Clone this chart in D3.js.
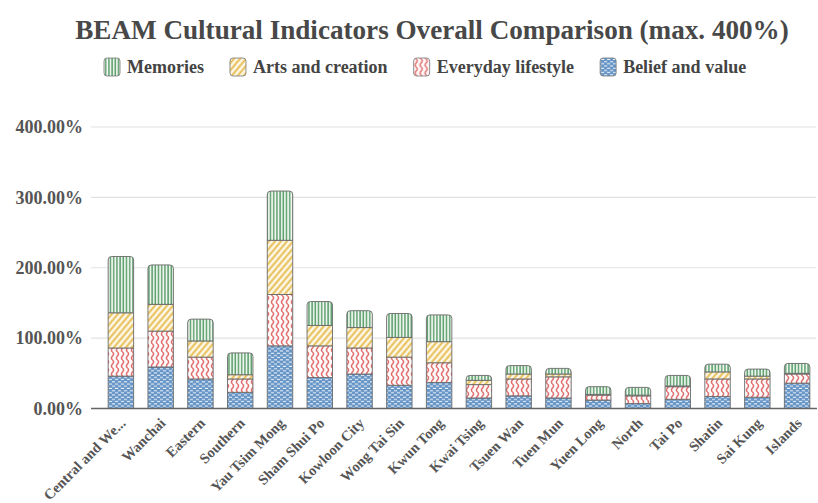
<!DOCTYPE html>
<html>
<head>
<meta charset="utf-8">
<script src="https://cdn.jsdelivr.net/npm/d3@7"></script>
<style>
  html, body { margin: 0; padding: 0; background: #fff; }
  #chart { width: 818px; height: 503px; }
</style>
</head>
<body>
<div id="chart"></div>
<script>
// districts and series values (percent)
const districts = ['Central and Western', 'Wanchai', 'Eastern', 'Southern', 'Yau Tsim Mong',
  'Sham Shui Po', 'Kowloon City', 'Wong Tai Sin', 'Kwun Tong', 'Kwai Tsing', 'Tsuen Wan',
  'Tuen Mun', 'Yuen Long', 'North', 'Tai Po', 'Shatin', 'Sai Kung', 'Islands'];
const belief   = [46, 59, 42, 23, 89, 44, 49, 33, 37, 15, 18, 15, 12, 7, 13, 17, 16, 36];
const everyday = [40, 51, 31, 19, 73, 45, 37, 40, 28, 19, 24, 30, 7, 11, 18, 25, 26, 13];
const arts     = [50, 38, 23, 6, 77, 29, 29, 28, 30, 6, 7, 4, 1, 1, 1, 10, 4, 1];
const memories = [80, 56, 31, 31, 70, 34, 24, 34, 38, 7, 12, 8, 11, 11, 15, 11, 10, 14];
const yTicks = [0, 100, 200, 300, 400];

const seriesNames = ['Belief and value', 'Everyday lifestyle', 'Arts and creation', 'Memories'];
const legendOrder = ['Memories', 'Arts and creation', 'Everyday lifestyle', 'Belief and value'];
const patternId = {
  'Belief and value': 'pat-belief',
  'Everyday lifestyle': 'pat-everyday',
  'Arts and creation': 'pat-arts',
  'Memories': 'pat-memories'
};

const width = 818, height = 503;
const font = "'Liberation Serif', 'DejaVu Serif', serif";

const svg = d3.select('#chart').append('svg')
  .attr('width', width)
  .attr('height', height);

// ---- patterns ----
const defs = svg.append('defs');

const pm = defs.append('pattern').attr('id', 'pat-memories')
  .attr('patternUnits', 'userSpaceOnUse').attr('width', 3.2).attr('height', 10);
pm.append('rect').attr('width', 3.2).attr('height', 10).attr('fill', '#f3f9f3');
pm.append('rect').attr('x', 1).attr('width', 1.5).attr('height', 10).attr('fill', '#5c9e6c');

const pa = defs.append('pattern').attr('id', 'pat-arts')
  .attr('patternUnits', 'userSpaceOnUse').attr('width', 4.6).attr('height', 10)
  .attr('patternTransform', 'rotate(40)');
pa.append('rect').attr('width', 4.6).attr('height', 10).attr('fill', '#fdf8ea');
pa.append('rect').attr('x', 1.4).attr('width', 1.9).attr('height', 10).attr('fill', '#e6bc4e');

// wavy vertical lines
const pe = defs.append('pattern').attr('id', 'pat-everyday')
  .attr('patternUnits', 'userSpaceOnUse').attr('width', 5).attr('height', 8);
pe.append('rect').attr('width', 5).attr('height', 8).attr('fill', '#fff8f8');
pe.append('path')
  .attr('d', 'M2.5,0 Q4.6,2 2.5,4 Q0.4,6 2.5,8')
  .attr('fill', 'none').attr('stroke', '#df6f6f').attr('stroke-width', 1.5);

const pb = defs.append('pattern').attr('id', 'pat-belief')
  .attr('patternUnits', 'userSpaceOnUse').attr('width', 6).attr('height', 4.4);
pb.append('rect').attr('width', 6).attr('height', 4.4).attr('fill', '#6393c5');
pb.append('rect').attr('x', 0.8).attr('y', 0.6).attr('width', 3.4).attr('height', 1.2).attr('rx', 0.5).attr('fill', '#eef4fb');
pb.append('rect').attr('x', 3.8).attr('y', 2.8).attr('width', 3.4).attr('height', 1.2).attr('rx', 0.5).attr('fill', '#eef4fb');
pb.append('rect').attr('x', -2.2).attr('y', 2.8).attr('width', 3.4).attr('height', 1.2).attr('rx', 0.5).attr('fill', '#eef4fb');

// ---- scales ----
const x = d3.scaleBand()
  .domain(districts)
  .range([101, 817])
  .paddingInner(0.36)
  .paddingOuter(0.18);

const y = d3.scaleLinear()
  .domain([0, 400])
  .range([408.5, 127]);

// ---- title ----
const title = svg.append('text')
  .attr('x', 432)
  .attr('y', 39)
  .attr('text-anchor', 'middle')
  .attr('font-family', font)
  .attr('font-weight', 'bold')
  .attr('font-size', '26px')
  .attr('fill', '#484848')
  .text('BEAM Cultural Indicators Overall Comparison (max. 400%)');
// fit title width to reference
const tw = title.node().getComputedTextLength();
title.attr('font-size', (26 * 714 / tw).toFixed(2) + 'px');

// ---- grid ----
svg.append('g')
  .selectAll('line')
  .data(yTicks.filter(d => d > 0))
  .join('line')
  .attr('x1', 91).attr('x2', 816)
  .attr('y1', d => y(d)).attr('y2', d => y(d))
  .attr('stroke', '#e2e2e2')
  .attr('stroke-width', 1.2);

// y labels
svg.append('g')
  .selectAll('text')
  .data(yTicks)
  .join('text')
  .attr('x', 83)
  .attr('y', d => y(d))
  .attr('dy', '0.35em')
  .attr('text-anchor', 'end')
  .attr('font-family', font)
  .attr('font-weight', 'bold')
  .attr('font-size', '18px')
  .attr('fill', '#555')
  .text(d => d3.format('.2f')(d) + '%');

// ---- stacked bars ----
const table = districts.map((d, i) => ({
  district: d,
  'Belief and value': belief[i],
  'Everyday lifestyle': everyday[i],
  'Arts and creation': arts[i],
  'Memories': memories[i]
}));

const series = d3.stack().keys(seriesNames)(table);

function segPath(x0, w, yTop, yBot, r) {
  if (r <= 0) return `M${x0},${yBot}V${yTop}H${x0 + w}V${yBot}Z`;
  r = Math.min(r, (yBot - yTop));
  return `M${x0},${yBot}V${yTop + r}Q${x0},${yTop} ${x0 + r},${yTop}` +
    `H${x0 + w - r}Q${x0 + w},${yTop} ${x0 + w},${yTop + r}V${yBot}Z`;
}

const bw = x.bandwidth();
series.forEach((s, si) => {
  svg.append('g')
    .selectAll('path')
    .data(s)
    .join('path')
    .attr('d', d => {
      const isTop = si === series.length - 1;
      return segPath(x(d.data.district), bw, y(d[1]), y(d[0]), isTop ? 3.5 : 0);
    })
    .attr('fill', `url(#${patternId[s.key]})`)
    .attr('stroke', '#6a6a6a')
    .attr('stroke-width', 0.9);
});

// ---- x axis ----
svg.append('line')
  .attr('x1', 91).attr('x2', 817)
  .attr('y1', y(0)).attr('y2', y(0))
  .attr('stroke', '#666')
  .attr('stroke-width', 1.5);

const shortName = d => d.length > 15 ? d.slice(0, 14) + '...' : d;

svg.append('g')
  .selectAll('text')
  .data(districts)
  .join('text')
  .attr('transform', d => `translate(${x(d) + bw / 2 + 2},${y(0) + 12}) rotate(-45)`)
  .attr('text-anchor', 'end')
  .attr('dy', '0.35em')
  .attr('font-family', font)
  .attr('font-weight', 'bold')
  .attr('font-size', '14.5px')
  .attr('fill', '#555')
  .text(shortName);

// ---- legend ----
const legend = svg.append('g').attr('transform', 'translate(0,67)');
let lx = 104;
legendOrder.forEach(name => {
  const item = legend.append('g').attr('transform', `translate(${lx},0)`);
  item.append('rect')
    .attr('x', 0).attr('y', -9)
    .attr('width', 16).attr('height', 18)
    .attr('rx', 3)
    .attr('fill', `url(#${patternId[name]})`)
    .attr('stroke', '#777')
    .attr('stroke-width', 0.8);
  const t = item.append('text')
    .attr('x', 23)
    .attr('y', 0)
    .attr('dy', '0.35em')
    .attr('font-family', font)
    .attr('font-weight', 'bold')
    .attr('font-size', '18px')
    .attr('fill', '#444')
    .text(name);
  lx += 23 + t.node().getComputedTextLength() + 26;
});
</script>
</body>
</html>
